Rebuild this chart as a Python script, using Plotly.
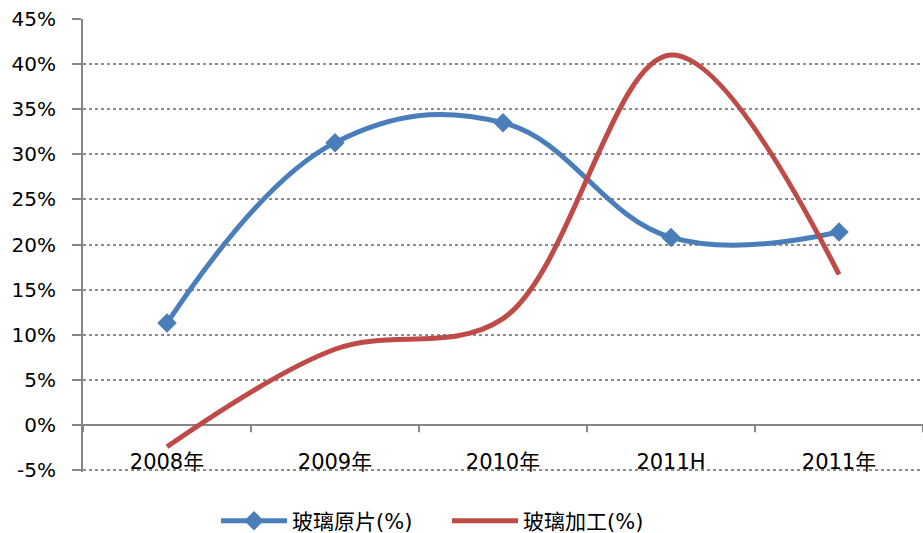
import plotly.graph_objects as go

categories = ["2008年", "2009年", "2010年", "2011H", "2011年"]
glass_raw = [11.3, 31.3, 33.5, 20.8, 21.4]          # 玻璃原片(%)
glass_processing = [-2.4, 8.4, 11.8, 41.0, 16.7]     # 玻璃加工(%)
y_ticks = list(range(-5, 50, 5))
y_tick_labels = [f"{v}%" for v in y_ticks]

BLUE = "#4A7EBB"
RED = "#BE4B48"
AXIS_GRAY = "#868686"
FONT = "DejaVu Sans, Noto Sans CJK SC, sans-serif"

fig = go.Figure()
fig.add_trace(go.Scatter(
    x=categories, y=glass_raw, name="玻璃原片(%)",
    mode="lines+markers",
    line=dict(color=BLUE, width=5, shape="spline", smoothing=1.15),
    marker=dict(symbol="diamond", size=15, color=BLUE),
))
fig.add_trace(go.Scatter(
    x=categories, y=glass_processing, name="玻璃加工(%)",
    mode="lines",
    line=dict(color=RED, width=5, shape="spline", smoothing=1.0),
))

# category-boundary tick marks hanging below the zero line
for k in range(len(categories) + 1):
    fig.add_shape(type="line", xref="x", yref="y",
                  x0=k - 0.5, x1=k - 0.5, y0=0, y1=-0.8,
                  line=dict(color=AXIS_GRAY, width=2), layer="below")

fig.update_layout(
    width=923, height=533,
    margin=dict(l=83, r=0, t=19, b=61, autoexpand=False),
    paper_bgcolor="white", plot_bgcolor="white",
    font=dict(family=FONT, color="black"),
    showlegend=True,
    legend=dict(orientation="h", xref="container", yref="container",
                x=216 / 923, xanchor="left", y=12 / 533, yanchor="middle",
                font=dict(size=21, family=FONT), itemwidth=66, entrywidth=150),
)
# category labels sit on a free-floating axis just above the -5% gridline
fig.update_xaxes(
    type="category", range=[-0.5, len(categories) - 0.5],
    anchor="free", position=25 / 453,
    showgrid=False, showline=False, zeroline=False, ticks="",
    tickfont=dict(size=21, family=FONT),
)
fig.update_yaxes(
    range=[-5.2, 45], tickmode="array", tickvals=y_ticks, ticktext=y_tick_labels,
    showline=True, linecolor=AXIS_GRAY, linewidth=2,
    ticks="outside", ticklen=9, tickcolor=AXIS_GRAY, tickwidth=2,
    ticklabelstandoff=12,
    showgrid=True, gridcolor="#8C8C8C", gridwidth=1.5, griddash="dot",
    zeroline=True, zerolinecolor=AXIS_GRAY, zerolinewidth=2,
    tickfont=dict(size=20, family=FONT),
)

fig.write_html("out.html")
